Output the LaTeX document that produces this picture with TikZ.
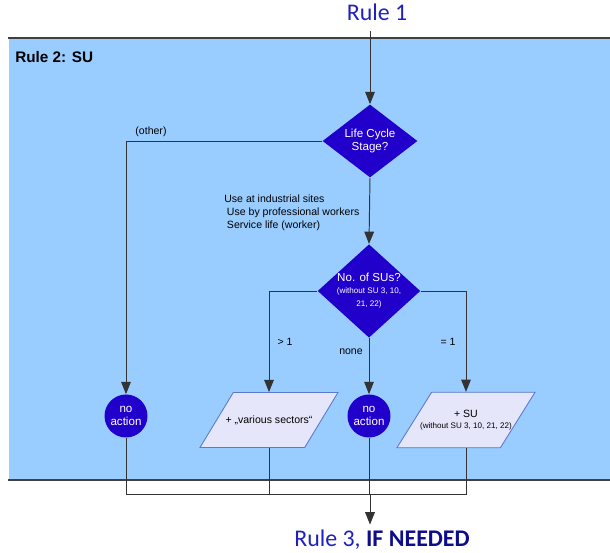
\documentclass[tikz,border=0pt]{standalone}
\usepackage{fontspec}
\setmainfont{Liberation Sans}
\newfontfamily\calibrifont{Carlito}
\usetikzlibrary{positioning,shapes.geometric,arrows.meta}
\definecolor{regionblue}{HTML}{99CCFF}
\definecolor{deciblue}{HTML}{2200CC}
\definecolor{ruleblue}{HTML}{2020C0}
\definecolor{rulenavy}{HTML}{0C0C8C}
\definecolor{iofill}{HTML}{E6E6FA}
\definecolor{ioedge}{HTML}{5A7ACC}
\newcommand{\smalltxt}{\fontsize{4.6}{5.4}\selectfont}
\tikzset{
  decision/.style={diamond, fill=deciblue, text=white, inner sep=0pt, shape aspect=1.1,
    align=center, font=\fontsize{6.6}{7.6}\selectfont},
  stopnode/.style={circle, fill=deciblue, text=white, inner sep=0pt, minimum size=0.86cm,
    align=center, font=\fontsize{6.6}{7.6}\selectfont},
  iobox/.style={trapezium, trapezium left angle=58, trapezium right angle=122, trapezium stretches body=true,
    fill=iofill, draw=ioedge, line width=0.5pt, inner xsep=-6.5pt, inner ysep=12.6pt, minimum width=2.76cm,
    minimum height=1.1cm, align=center, font=\fontsize{6}{7}\selectfont},
  flow/.style={draw=black!80, line width=0.55pt},
  arr/.style={flow, -{Triangle[length=7pt,width=5.5pt]}},
  lbl/.style={inner sep=0pt, font=\fontsize{6}{7.4}\selectfont},
  rulelbl/.style={inner sep=1pt, text=ruleblue, font=\calibrifont\fontsize{13.6}{15}\selectfont}
}
\begin{document}
\begin{tikzpicture}[x=0.02cm, y=-0.02cm]
      \useasboundingbox (0,0) rectangle (610,553);

      % the region of rule 2
      \fill[regionblue] (9,38) rectangle (610,480);
      \draw[black!75, line width=0.6pt] (8,38) -- (610,38);
      \draw[black!75, line width=0.6pt] (8,480) -- (610,480);
      \node (title) [anchor=west, inner sep=0pt, font=\bfseries\fontsize{8.7}{10}\selectfont] at (15,57) {Rule 2: SU};

      % Define the nodes
      \node (rule1) [rulelbl] at (377,12) {Rule 1};
      \node (lcs) [decision, minimum width=1.9cm, minimum height=1.46cm] at (370,141) {Life Cycle\\Stage?};
      \node (nos) [decision, minimum width=1.96cm, minimum height=1.64cm] at (369,291) {No. of SUs?\\[-1pt]\smalltxt(without SU 3, 10,\\\smalltxt 21, 22)};
      \node (noact1) [stopnode] at (126,416) {no\\action};
      \node (noact2) [stopnode] at (369,416) {no\\action};
      \node (various) [iobox] at (269,420) {+ „various sectors“};
      \node (plussu) [iobox, inner ysep=10.2pt] at (466,420) {+ SU\\[-1pt]\smalltxt(without SU 3, 10, 21, 22)};
      \node (rule3) [rulelbl] at (382,540) {Rule 3, \textbf{\color{rulenavy}IF NEEDED}};
      \coordinate (merge) at (370,494);

      % labels on the arrows
      \node (otherlbl) [lbl] at (151,132) {(other)};
      \node (uselbl) [lbl, anchor=north west, align=left] at (224,195) {Use at industrial sites\\\hspace*{1.5pt}Use by professional workers\\\hspace*{1.5pt}Service life (worker)};
      \node (morelbl) [lbl] at (285,342) {> 1};
      \node (nonelbl) [lbl] at (351,352) {none};
      \node (onelbl) [lbl] at (448,342) {= 1};

      % Draw the arrows between the nodes
      \draw[arr, shorten <=5pt] (rule1.south -| lcs.north) -- (lcs.north);
      \draw[arr] (lcs.west) -| (noact1.north);
      \draw[arr] (lcs.south) -- (nos.north);
      \draw[arr] (nos.west) -| (various.north);
      \draw[arr] (nos.south) -- (noact2.north);
      \draw[arr] (nos.east) -| (plussu.north);

      % Draw the lines down to rule 3
      \draw[flow] (noact1.south) |- (merge);
      \draw[flow] (various.south) |- (merge);
      \draw[flow] (plussu.south) |- (merge);
      \draw[flow] (noact2.south) |- (merge);
      \draw[arr, shorten >=2pt] (merge) -- (merge |- rule3.north);
\end{tikzpicture}
\end{document}
